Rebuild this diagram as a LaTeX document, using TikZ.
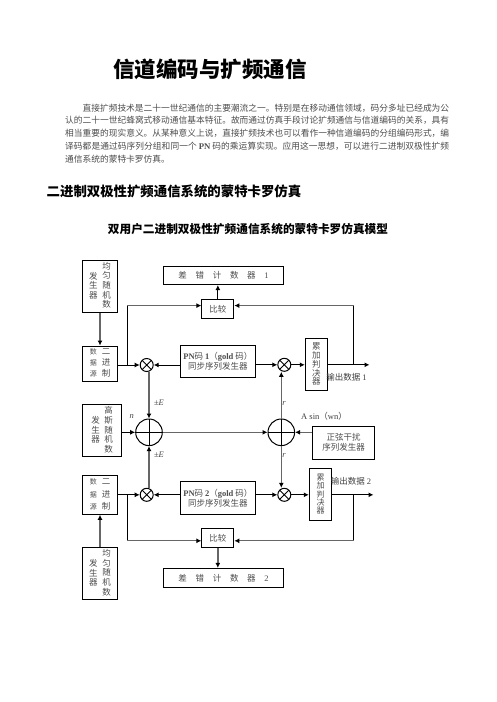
\documentclass[tikz,border=0pt]{standalone}
\usepackage{fontspec}
\setmainfont{Noto Sans CJK SC}
\newfontfamily\latinfont{Liberation Serif}
\usepackage{xcolor}
\usepackage{tikz}
\usetikzlibrary{arrows.meta, positioning, calc}
\XeTeXlinebreaklocale "zh"
\XeTeXlinebreakskip=0pt plus 1pt
\newcommand{\vstack}[2][0.85]{{\renewcommand\arraystretch{#1}\begin{tabular}[c]{@{}c@{}}#2\end{tabular}}}
\newcommand{\cgap}{\hspace{8.7pt}}

\begin{document}
\begin{tikzpicture}[
    x=1pt, y=1pt,
    box/.style={draw, line width=1pt, inner sep=0pt, align=center, text=black!70, font=\fontsize{8.5}{10}\selectfont},
    mixer/.style={draw, line width=1pt, circle, minimum size=13pt, inner sep=0pt,
        path picture={\draw[line width=0.9pt] (path picture bounding box.north west) -- (path picture bounding box.south east)
            (path picture bounding box.north east) -- (path picture bounding box.south west);}},
    adder/.style={draw, line width=1pt, circle, minimum size=26.6pt, inner sep=0pt,
        path picture={\draw[line width=0.9pt] (path picture bounding box.north) -- (path picture bounding box.south)
            (path picture bounding box.east) -- (path picture bounding box.west);}},
    lbl/.style={inner sep=0pt, text=black!75, font=\fontsize{8.5}{10}\selectfont},
    arrow/.style={-{Latex[length=5pt,width=5pt]}, line width=1pt},
    wire/.style={line width=1pt},
    heavy/.style={-{Latex[length=5pt,width=5pt,black]}, line width=1.3pt, black!60},
    heavywire/.style={line width=1.3pt, black!60}
]
    \useasboundingbox (0,0) rectangle (496,-702);

    % text above the model
    \node[inner sep=0pt, font=\fontsize{21.5}{24}\selectfont\bfseries] (title) at (210,-69.3) {信道编码与扩频通信};
    \node[inner sep=0pt, anchor=north west, text width=384pt, align=justify, text=black!70,
        font=\fontsize{8.72}{12.9}\selectfont] (intro) at (65,-103.5)
        {\hspace*{17.4pt}直接扩频技术是二十一世纪通信的主要潮流之一。特别是在移动通信领域，码分多址已经成为公认的二十一世纪蜂窝式移动通信基本特征。故而通过仿真手段讨论扩频通信与信道编码的关系，具有相当重要的现实意义。从某种意义上说，直接扩频技术也可以看作一种信道编码的分组编码形式，编译码都是通过码序列分组和同一个 {\latinfont\bfseries PN} 码的乘运算实现。应用这一思想，可以进行二进制双极性扩频通信系统的蒙特卡罗仿真。};
    \node[inner sep=0pt, font=\fontsize{13.4}{15}\selectfont\bfseries] (section) at (174,-191.7) {二进制双极性扩频通信系统的蒙特卡罗仿真};
    \node[inner sep=0pt, font=\fontsize{11.67}{14}\selectfont\bfseries] (model) at (248,-229.3) {双用户二进制双极性扩频通信系统的蒙特卡罗仿真模型};

    % upper branch
    \node[box, minimum width=35pt, minimum height=52.5pt] (uni1) at (100,-286.25)
        {\vstack{发\\生\\器}\hspace{4.8pt}\vstack{均\\匀\\随\\机\\数}};
    \node[box, below=32.5pt of uni1, minimum width=35pt, minimum height=35pt] (bin1)
        {{\fontsize{7}{11}\selectfont\vstack[1]{数\\据\\源}}\hspace{5pt}\vstack[1.1]{二\\进\\制}};
    \node[mixer, right=21.7pt of bin1, yshift=-1.5pt] (mult1) {};
    \node[box, right=25.8pt of mult1, yshift=3.3pt, minimum width=75.7pt, minimum height=31.7pt] (pn1)
        {{\latinfont\bfseries PN}码 {\latinfont\bfseries 1}（{\latinfont\bfseries gold} 码）\\同步序列发生器};
    \node[mixer, right=21.1pt of pn1, yshift=-3.1pt] (mult1r) {};
    \node[box, right=13.5pt of mult1r, minimum width=22pt, minimum height=52pt] (acc1)
        {\vstack[0.57]{累\\加\\判\\决\\器}};
    \node[box, above=26.3pt of pn1, minimum width=32pt, minimum height=19.5pt] (cmp1) {比较};
    \node[box, above=13.5pt of cmp1, xshift=5.7pt, minimum width=120pt, minimum height=18.5pt] (cnt1)
        {差\cgap 错\cgap 计\cgap 数\cgap 器\cgap {\latinfont 1}};

    % adders and the noise sources
    \node[adder, below=46.5pt of mult1, xshift=2.3pt] (sumL) {};
    \node[box, left=13pt of sumL, yshift=1.5pt, minimum width=39.2pt, minimum height=52pt] (gauss)
        {\vstack{发\\生\\器}\hspace{4.5pt}\vstack{高\\斯\\随\\机\\数}};
    \node[adder, right=104.7pt of sumL] (sumR) {};
    \node[box, right=16.7pt of sumR, yshift=-10.3pt, minimum width=62.4pt, minimum height=33pt] (sine)
        {正弦干扰\\序列发生器};

    % lower branch
    \node[box, minimum width=35pt, minimum height=39pt] (bin2) at (100,-494.8)
        {{\fontsize{7}{12.5}\selectfont\vstack[1]{数\\据\\源}}\hspace{5pt}\vstack[1.25]{二\\进\\制}};
    \node[box, below=32pt of bin2, minimum width=35pt, minimum height=52.4pt] (uni2)
        {\vstack{发\\生\\器}\hspace{4.8pt}\vstack{均\\匀\\随\\机\\数}};
    \node[mixer, right=21.7pt of bin2] (mult2) {};
    \node[box, right=25.8pt of mult2, yshift=-3.1pt, minimum width=75.7pt, minimum height=33pt] (pn2)
        {{\latinfont\bfseries PN}码 {\latinfont\bfseries 2}（{\latinfont\bfseries gold} 码）\\同步序列发生器};
    \node[mixer, right=21.1pt of pn2, yshift=3.1pt] (mult2r) {};
    \node[box, right=17.5pt of mult2r, minimum width=22.4pt, minimum height=52pt] (acc2)
        {{\fontsize{8}{10}\selectfont\vstack[0.59]{累\\加\\判\\决\\器}}};
    \node[box, below=13pt of pn2, minimum width=32pt, minimum height=19.4pt] (cmp2) {比较};
    \node[box, below=19.6pt of cmp2, xshift=5.7pt, minimum width=120pt, minimum height=19pt] (cnt2)
        {差\cgap 错\cgap 计\cgap 数\cgap 器\cgap {\latinfont 2}};

    % labels
    \node[lbl] (pmE1) at (159,-403) {{\latinfont ±\textit{E}}};
    \node[lbl] (pmE2) at (159,-455) {{\latinfont ±\textit{E}}};
    \node[lbl] (noise) at (131.7,-416.7) {{\latinfont\textit{n}}};
    \node[lbl] (r1) at (284,-403) {{\latinfont\textit{r}}};
    \node[lbl] (r2) at (284,-455) {{\latinfont\textit{r}}};
    \node[lbl] (asin) at (324,-416) {{\latinfont A sin}（{\latinfont wn}）};
    \node[lbl] (out1txt) at (346.5,-377) {输出数据 {\latinfont 1}};
    \node[lbl] (out2txt) at (351,-481) {输出数据 {\latinfont 2}};

    % free ends and taps
    \coordinate (tap1) at ($(mult1.west)+(-12.5pt,0)$);
    \coordinate (tap2) at ($(mult2.west)+(-12.5pt,0)$);
    \coordinate (in1) at ($(cmp1.west)+(0,3.2pt)$);
    \coordinate (in1r) at ($(cmp1.east)+(0,3.2pt)$);
    \coordinate (in2) at ($(cmp2.west)+(0,-2.7pt)$);
    \coordinate (in2r) at ($(cmp2.east)+(0,-2.7pt)$);
    \coordinate (tap1r) at ($(acc1.east)+(26pt,0)$);
    \coordinate (out1) at ($(acc1.east)+(41.7pt,0)$);
    \coordinate (tap2r) at ($(acc2.east)+(21.6pt,0)$);
    \coordinate (out2) at ($(acc2.east)+(41.3pt,0)$);
    \coordinate (cnt1in) at (cnt1.south -| cmp1);
    \coordinate (cnt2in) at (cnt2.north -| cmp2);

    \draw[heavy] (uni1) -- (bin1);
    \draw[arrow] (bin1.east |- mult1) -- (mult1);
    \draw[arrow] (pn1.west |- mult1) -- (mult1);
    \draw[arrow] (pn1.east |- mult1r) -- (mult1r);
    \draw[arrow] (mult1r) -- (acc1);
    \draw[arrow] (acc1) -- (out1);
    \draw[wire] (tap1) -- (tap1 |- in1);
    \draw[heavy] (tap1 |- in1) -- (in1);
    \draw[wire] (tap1r) -- (tap1r |- in1r);
    \draw[heavy] (tap1r |- in1r) -- (in1r);
    \draw[arrow] (cmp1) -- (cnt1in);

    \draw[heavy] (sumL |- mult1.south) -- (sumL.north);
    \draw[heavy] (sumL |- mult2.north) -- (sumL.south);
    \draw[arrow] (gauss.east |- sumL) -- (sumL.west);
    \draw[heavy] (sumL.east) -- (sumR.west);
    \draw[heavy] (sine.west |- sumR) -- (sumR.east);
    \draw[heavy] (sumR.north) -- (sumR |- mult1r.south);
    \draw[heavy] (sumR.south) -- (sumR |- mult2r.north);

    \draw[heavy] (uni2) -- (bin2);
    \draw[arrow] (bin2) -- (mult2);
    \draw[arrow] (pn2.west |- mult2) -- (mult2);
    \draw[arrow] (pn2.east |- mult2r) -- (mult2r);
    \draw[arrow] (mult2r) -- (acc2);
    \draw[arrow] (acc2) -- (out2);
    \draw[wire] (tap2) -- (tap2 |- in2);
    \draw[heavy] (tap2 |- in2) -- (in2);
    \draw[wire] (tap2r) -- (tap2r |- in2r);
    \draw[heavy] (tap2r |- in2r) -- (in2r);
    \draw[heavy] (cmp2) -- (cnt2in);
\end{tikzpicture}
\end{document}
